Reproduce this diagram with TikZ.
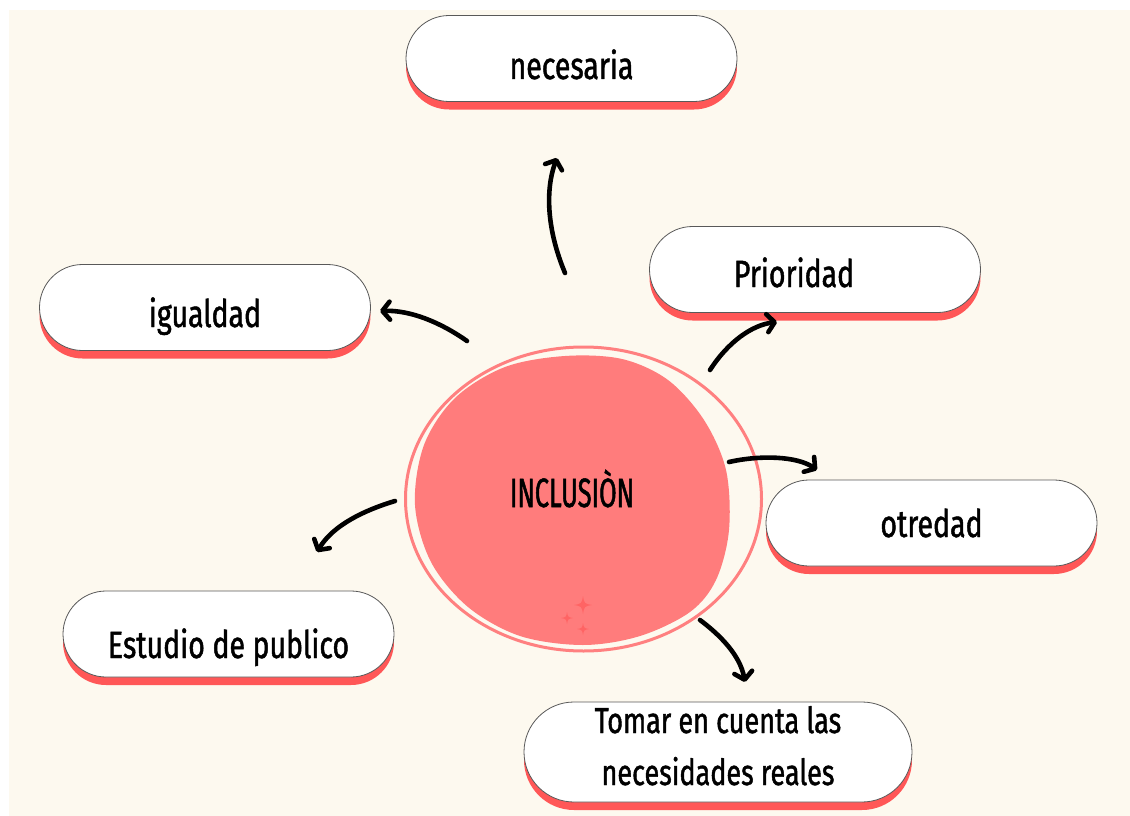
\documentclass[tikz,border=0pt]{standalone}
\usepackage{fontspec}
\newfontfamily\hand[FakeStretch=0.75,FakeBold=1.2]{Fira Sans}
\newfontfamily\handcaps[FakeStretch=0.62,FakeBold=1.2]{Fira Sans}
\usetikzlibrary{arrows.meta,shadows}
\definecolor{cream}{HTML}{FDF9EF}
\definecolor{shred}{HTML}{FF5757}
\definecolor{blobred}{HTML}{FF7C7C}
\definecolor{ringred}{HTML}{FF8080}
\definecolor{starred}{HTML}{FF6464}
\newcommand\sparkstar[3]{%
  \fill[starred] (#1,#2-#3) .. controls (#1+0.15*#3,#2-0.15*#3) .. (#1+#3,#2)
    .. controls (#1+0.15*#3,#2+0.15*#3) .. (#1,#2+#3)
    .. controls (#1-0.15*#3,#2+0.15*#3) .. (#1-#3,#2)
    .. controls (#1-0.15*#3,#2-0.15*#3) .. cycle;}
\newcommand\lowtext[2]{\raisebox{-#1pt}{#2}}
\begin{document}
\begin{tikzpicture}[x=1pt,y=-1pt,
  pill/.style={draw=black!65, line width=0.8pt, fill=white, rounded corners=43pt,
    minimum width=331pt, minimum height=86pt, inner sep=0pt, align=center,
    text height=0pt, text depth=0pt,
    font=\hand\fontsize{38pt}{52pt}\selectfont,
    drop shadow={shadow xshift=0pt, shadow yshift=-8pt, fill=shred, opacity=1}},
  arr/.style={line width=4.6pt, line cap=round,
    -{Straight Barb[length=7.5pt,width=18pt,line cap=round,line join=round]}}]
\useasboundingbox (0,0) rectangle (1130,816);
\fill[white] (0,0) rectangle (1130,816);
\fill[cream] (9,10) rectangle (1130,816);

% central blob
\fill[blobred] plot[smooth cycle, tension=0.55] coordinates {
  (415,505) (424,445) (455,398) (505,367) (565,356) (622,359)
  (668,380) (704,420) (726,470) (729,530) (716,580) (690,612)
  (640,636) (583,645) (520,636) (468,607) (431,562)};
\draw[ringred, line width=3pt] (583.5,499) ellipse [x radius=178, y radius=152];
\sparkstar{583}{605}{9}
\sparkstar{567}{618}{6}
\sparkstar{583}{629}{6}
\node[font=\handcaps\fontsize{41pt}{44pt}\selectfont, anchor=base] (inc) at (572,507) {INCLUSIÒN};

% boxes
\node[pill] (nec) at (571.5,58.5) {\lowtext{20.5}{necesaria}};
\node[pill] (pri) at (815,269.5) {\lowtext{17.5}{Prioridad\hspace*{42pt}}};
\node[pill] (igu) at (205,307.5) {\lowtext{19.5}{igualdad}};
\node[pill] (otr) at (931.5,523) {\lowtext{14}{otredad}};
\node[pill] (est) at (228.5,634) {\lowtext{24}{Estudio de publico}};
\node[pill, minimum width=388pt, minimum height=100pt, rounded corners=50pt,
  font=\hand\fontsize{36pt}{52pt}\selectfont] (tom) at (718,752)
  {\raisebox{19pt}{\begin{tabular}[t]{@{}c@{}}Tomar en cuenta las\\necesidades reales\end{tabular}}};

% arrow ends
\coordinate (s1) at (565,273); \coordinate (e1) at (557,158);
\coordinate (s2) at (467,341); \coordinate (e2) at (380,311);
\coordinate (s3) at (710,370); \coordinate (e3) at (777,322);
\coordinate (s4) at (729,462); \coordinate (e4) at (817,470);
\coordinate (s5) at (395,501); \coordinate (e5) at (317,552);
\coordinate (s6) at (700,620); \coordinate (e6) at (745,682);

\draw[arr] (s1) .. controls (547,230) and (545,190) .. (e1);
\draw[arr] (s2) .. controls (440,322) and (410,310) .. (e2);
\draw[arr] (s3) .. controls (728,342) and (752,325) .. (e3);
\draw[arr] (s4) .. controls (760,455) and (797,456) .. (e4);
\draw[arr] (s5) .. controls (365,510) and (333,525) .. (e5);
\draw[arr] (s6) .. controls (720,635) and (740,655) .. (e6);
\end{tikzpicture}
\end{document}
